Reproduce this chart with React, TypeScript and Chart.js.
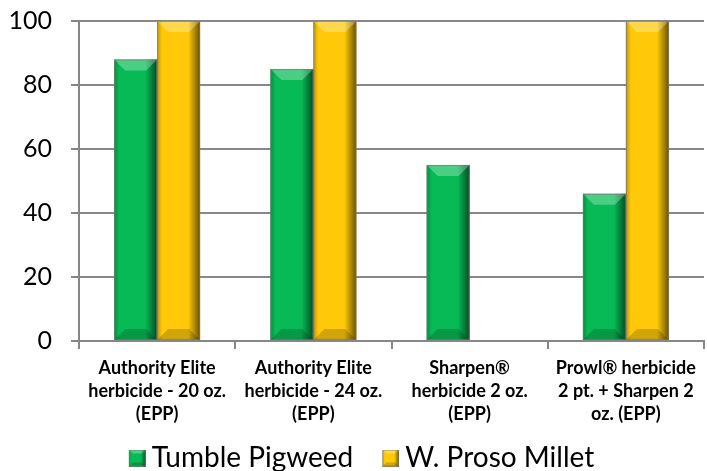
import React, { useEffect, useRef } from "react";
import { Chart, registerables } from "chart.js";

Chart.register(...registerables);

const categories: string[][] = [
  ["Authority Elite", "herbicide - 20 oz.", "(EPP)"],
  ["Authority Elite", "herbicide - 24 oz.", "(EPP)"],
  ["Sharpen®", "herbicide 2 oz.", "(EPP)"],
  ["Prowl® herbicide", "2 pt. + Sharpen 2", "oz. (EPP)"],
];
const tumblePigweed = [88, 85, 55, 46];
const wProsoMillet = [100, 100, 0, 100];
const seriesNames = ["Tumble Pigweed", "W. Proso Millet"];

const GREEN = "#07BA55";
const GOLD = "#FFC90A";
const AXIS = "#878787";

function drawBevel(ctx: CanvasRenderingContext2D, left: number, top: number, width: number, h: number, bev: number, edge: number) {
  const right = left + width;
  const bottom = top + h;
  const b = Math.min(bev, h / 2, width / 2);
  ctx.save();
  const gr = ctx.createLinearGradient(right - edge, 0, right, 0);
  gr.addColorStop(0, "rgba(0,0,0,0)");
  gr.addColorStop(0.6, "rgba(0,0,0,0.35)");
  gr.addColorStop(1, "rgba(0,0,0,0.6)");
  ctx.fillStyle = gr;
  ctx.fillRect(right - edge, top, edge, h);
  const gl = ctx.createLinearGradient(left, 0, left + edge / 2.4, 0);
  gl.addColorStop(0, "rgba(0,0,0,0.25)");
  gl.addColorStop(1, "rgba(0,0,0,0)");
  ctx.fillStyle = gl;
  ctx.fillRect(left, top, edge / 2.4, h);
  ctx.beginPath();
  ctx.moveTo(left, top);
  ctx.lineTo(right, top);
  ctx.lineTo(right - b, top + b);
  ctx.lineTo(left + b, top + b);
  ctx.closePath();
  ctx.fillStyle = "rgba(255,255,255,0.28)";
  ctx.fill();
  ctx.beginPath();
  ctx.moveTo(left, bottom);
  ctx.lineTo(right, bottom);
  ctx.lineTo(right - b, bottom - b);
  ctx.lineTo(left + b, bottom - b);
  ctx.closePath();
  ctx.fillStyle = "rgba(0,0,0,0.18)";
  ctx.fill();
  ctx.strokeStyle = "rgba(120,120,120,0.7)";
  ctx.lineWidth = 1;
  ctx.strokeRect(left + 0.5, top + 0.5, width - 1, h - 1);
  ctx.restore();
}

const bevelPlugin = {
  id: "bevel",
  afterDatasetsDraw(chart: any) {
    const ctx = chart.ctx as CanvasRenderingContext2D;
    chart.data.datasets.forEach((_ds: any, di: number) => {
      const meta = chart.getDatasetMeta(di);
      meta.data.forEach((bar: any) => {
        const { x, y, base, width } = bar.getProps(["x", "y", "base", "width"], true);
        const top = Math.min(y, base);
        const h = Math.abs(base - y);
        if (h < 1) return;
        drawBevel(ctx, x - width / 2, top, width, h, 11, 12);
      });
    });
  },
};

// legend icon: a 17px bevelled square sitting at the right of a transparent 44px-wide canvas
function makeIcon(color: string): HTMLCanvasElement {
  const c = document.createElement("canvas");
  c.width = 44;
  c.height = 17;
  const ctx = c.getContext("2d") as CanvasRenderingContext2D;
  ctx.fillStyle = color;
  ctx.fillRect(27, 0, 17, 17);
  drawBevel(ctx, 27, 0, 17, 17, 4, 5);
  return c;
}

export default function App() {
  const ref = useRef<HTMLCanvasElement | null>(null);
  useEffect(() => {
    if (!ref.current) return;
    const icons = [makeIcon(GREEN), makeIcon(GOLD)];
    const defaultGen = (Chart as any).defaults.plugins.legend.labels.generateLabels;
    const chart = new Chart(ref.current, {
      type: "bar",
      data: {
        labels: categories,
        datasets: [
          {
            label: seriesNames[0],
            data: tumblePigweed,
            backgroundColor: GREEN,
            borderWidth: 0,
            barPercentage: 1,
            categoryPercentage: 0.55,
          },
          {
            label: seriesNames[1],
            data: wProsoMillet,
            backgroundColor: GOLD,
            borderWidth: 0,
            barPercentage: 1,
            categoryPercentage: 0.55,
          },
        ],
      },
      options: {
        animation: false,
        responsive: false,
        maintainAspectRatio: false,
        layout: { padding: { left: 0, right: 3, top: 0, bottom: -11 } },
        plugins: {
          tooltip: { enabled: false },
          legend: {
            position: "bottom",
            labels: {
              color: "#000",
              font: { family: "Lato", size: 28, lineHeight: 1.0 },
              usePointStyle: true,
              padding: 10,
              generateLabels: (ch: any) =>
                defaultGen(ch).map((l: any, i: number) => ({ ...l, pointStyle: icons[i] })),
            },
          },
        },
        scales: {
          x: {
            grid: {
              drawOnChartArea: false,
              drawTicks: true,
              tickLength: 8,
              color: AXIS,
              lineWidth: 2,
            },
            border: { color: AXIS, width: 2 },
            ticks: {
              color: "#000",
              font: { family: "Lato", size: 18, weight: "bold", lineHeight: 1.28 },
              maxRotation: 0,
              autoSkip: false,
              padding: 8,
            },
          },
          y: {
            min: 0,
            max: 100,
            afterFit: (scale: any) => {
              scale.width = 79;
              scale.paddingTop = 21;
              scale.paddingBottom = 0;
            },
            grid: {
              color: AXIS,
              lineWidth: 2,
              tickLength: 8,
            },
            border: { color: AXIS, width: 2 },
            ticks: {
              stepSize: 20,
              color: "#000",
              font: { family: "Lato", size: 25 },
              padding: 19,
            },
          },
        },
      },
      plugins: [bevelPlugin],
    });
    return () => chart.destroy();
  }, []);
  return (
    <div style={{ position: "fixed", left: 0, top: 0, width: 707, height: 471, background: "#fff" }}>
      <canvas ref={ref} width={707} height={471} />
    </div>
  );
}
